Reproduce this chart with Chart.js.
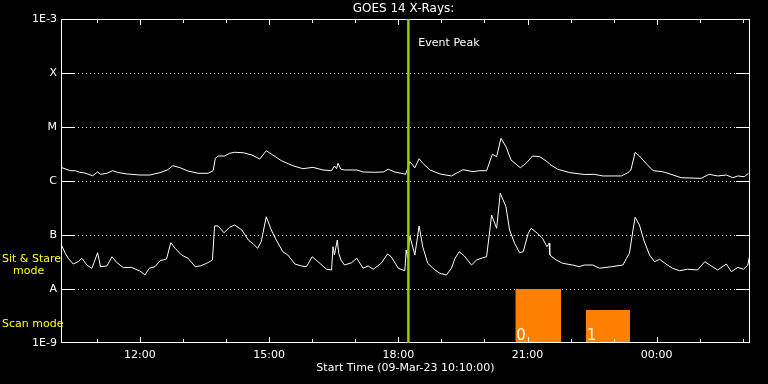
<!DOCTYPE html>
<html>
<head>
<meta charset="utf-8">
<script src="https://cdn.jsdelivr.net/npm/chart.js@4/dist/chart.umd.min.js"></script>
<style>
  html, body { margin: 0; padding: 0; background: #000; }
</style>
</head>
<body>
<canvas id="chart-goes" width="768" height="384"></canvas>
<script>
/* ===== GOES 14 X-Ray flux plot ===== */

const TITLE = 'GOES 14 X-Rays:';
const START_LABEL = 'Start Time (09-Mar-23 10:10:00)';
const START_MINUTES = 10 * 60 + 10; // 10:10
const SPAN_MINUTES = 960;

// long channel, minutes since start / flux (W m^-2)
const longTimes = [0,13,20,26,33,44,51,55,64,72,80,92,110,124,138,148,156,166,177,191,205,212,215,219,228,235,242,254,266,277,286,293,307,323,337,351,365,377,381,384,386,390,395,412,421,437,449,456,465,474,480,483,486,493,499,504,514,528,544,560,574,583,593,601,607,613,620,627,640,648,657,667,678,681,692,709,729,743,755,781,790,794,800,806,815,825,838,850,864,892,903,915,927,936,943,952,958];
const longFlux = [1.79e-6,1.55e-6,1.55e-6,1.45e-6,1.41e-6,1.25e-6,1.47e-6,1.33e-6,1.39e-6,1.55e-6,1.43e-6,1.35e-6,1.29e-6,1.29e-6,1.43e-6,1.60e-6,1.92e-6,1.76e-6,1.53e-6,1.39e-6,1.39e-6,1.55e-6,2.63e-6,2.90e-6,2.90e-6,3.26e-6,3.40e-6,3.34e-6,3.03e-6,2.55e-6,3.64e-6,3.16e-6,2.38e-6,1.92e-6,1.69e-6,1.79e-6,1.60e-6,1.55e-6,1.90e-6,1.69e-6,2.13e-6,1.65e-6,1.60e-6,1.60e-6,1.47e-6,1.45e-6,1.47e-6,1.65e-6,1.47e-6,1.39e-6,1.33e-6,1.69e-6,2.28e-6,1.76e-6,2.59e-6,2.13e-6,1.60e-6,1.35e-6,1.24e-6,1.62e-6,1.49e-6,1.55e-6,1.55e-6,3.12e-6,2.82e-6,6.18e-6,4.32e-6,2.45e-6,1.76e-6,2.13e-6,2.90e-6,2.82e-6,2.25e-6,2.04e-6,1.65e-6,1.43e-6,1.32e-6,1.33e-6,1.24e-6,1.24e-6,1.43e-6,1.60e-6,3.40e-6,2.90e-6,2.13e-6,1.55e-6,1.49e-6,1.33e-6,1.15e-6,1.12e-6,1.33e-6,1.24e-6,1.29e-6,1.15e-6,1.24e-6,1.20e-6,1.39e-6];

// short channel
const shortTimes = [0,6,10,17,24,29,36,43,46,51,55,64,71,78,87,98,110,117,123,131,138,147,153,159,168,177,187,194,203,211,214,219,227,235,242,252,261,268,274,279,286,293,300,309,316,326,335,342,350,358,370,377,379,381,385,387,390,395,405,412,421,428,435,446,455,460,470,479,481,483,486,493,499,504,511,521,528,537,544,549,555,562,572,579,588,593,600,607,612,620,625,632,639,644,651,655,664,671,677,680,681,690,699,713,722,729,741,750,767,783,788,792,797,800,806,812,820,827,834,843,852,862,873,887,897,906,915,927,934,943,951,957,959];
const shortFlux = [6.8e-8,4.58e-8,3.71e-8,2.90e-8,3.21e-8,3.71e-8,2.78e-8,2.42e-8,3.07e-8,4.70e-8,2.59e-8,2.67e-8,3.96e-8,3.07e-8,2.48e-8,2.52e-8,2.15e-8,1.82e-8,2.42e-8,2.59e-8,3.34e-8,3.59e-8,7.20e-8,5.67e-8,4.26e-8,3.71e-8,2.59e-8,2.67e-8,2.99e-8,3.44e-8,1.47e-7,1.47e-7,1.10e-7,1.39e-7,1.53e-7,1.24e-7,8.07e-8,6.8e-8,5.67e-8,7.52e-8,2.18e-7,1.24e-7,8.07e-8,4.91e-8,4.26e-8,2.90e-8,2.67e-8,2.59e-8,3.96e-8,3.21e-8,2.32e-8,2.25e-8,6.07e-8,4.26e-8,8.07e-8,4.58e-8,3.44e-8,2.78e-8,3.07e-8,3.71e-8,2.42e-8,2.67e-8,2.32e-8,2.99e-8,4.45e-8,3.96e-8,2.42e-8,2.18e-8,5.27e-8,3.71e-8,9.58e-8,4.26e-8,1.47e-7,6.07e-8,2.99e-8,2.25e-8,1.95e-8,1.82e-8,2.42e-8,3.71e-8,4.91e-8,4.08e-8,2.78e-8,3.44e-8,3.80e-8,3.96e-8,2.34e-7,1.33e-7,5.92e-7,3.34e-7,1.24e-7,7.02e-8,4.70e-8,4.91e-8,1.07e-7,1.33e-7,1.07e-7,8.69e-8,6.07e-8,7.02e-8,4.26e-8,3.44e-8,2.99e-8,2.78e-8,2.59e-8,2.78e-8,2.78e-8,2.42e-8,2.59e-8,2.78e-8,3.71e-8,4.58e-8,1.24e-7,2.13e-7,1.53e-7,8.07e-8,4.26e-8,3.21e-8,3.55e-8,2.90e-8,2.42e-8,2.18e-8,2.32e-8,2.25e-8,3.21e-8,2.67e-8,2.25e-8,2.90e-8,2.09e-8,2.52e-8,2.32e-8,2.78e-8,3.86e-8];

// scan-mode blocks
const scanStart = [633, 731];
const scanEnd = [697, 793];
const scanLevel = [1e-8, 4.1e-9];
const scanLabels = ['0', '1'];

const eventPeak = 484; // 18:14

const fluxTicks = [1e-9, 1e-8, 1e-7, 1e-6, 1e-5, 1e-4, 1e-3];
const fluxLabels = ['1E-9', 'A', 'B', 'C', 'M', 'X', '1E-3'];
const classLevels = [1e-8, 1e-7, 1e-6, 1e-5, 1e-4];
const hourTicks = [50, 110, 170, 230, 290, 350, 410, 470, 530, 590, 650, 710, 770, 830, 890, 950];
const majorTicks = [110, 290, 470, 650, 830];

const FONT = 'DejaVu Sans';

function clockLabel(m) {
  const t = (START_MINUTES + m) % 1440;
  const h = Math.floor(t / 60), mm = t % 60;
  return String(h).padStart(2, '0') + ':' + String(mm).padStart(2, '0');
}

function fluxLabel(v) {
  const i = fluxTicks.findIndex(t => Math.abs(Math.log10(t) - Math.log10(v)) < 0.01);
  return i < 0 ? '' : fluxLabels[i];
}

function line(ctx, x1, y1, x2, y2) {
  ctx.beginPath();
  ctx.moveTo(x1, y1);
  ctx.lineTo(x2, y2);
  ctx.stroke();
}

/* ---------- Frame, grid and annotations ---------- */

const goesFrame = {
  id: 'goesFrame',
  beforeDatasetsDraw(chart) {
    const { ctx, chartArea: a, scales: { x, y } } = chart;
    ctx.save();
    ctx.strokeStyle = '#fff';
    ctx.lineWidth = 1;
    classLevels.forEach(v => {
      const py = Math.round(y.getPixelForValue(v)) + 0.5;
      ctx.setLineDash([1, 3]);
      line(ctx, a.left + 17, py, a.right - 14, py);
      ctx.setLineDash([]);
      line(ctx, a.left, py, a.left + 14, py);
      line(ctx, a.right - 14, py, a.right, py);
    });
    ctx.restore();
  },
  afterDatasetsDraw(chart) {
    const { ctx, chartArea: a, scales: { x, y } } = chart;
    ctx.save();
    ctx.strokeStyle = '#fff';
    ctx.lineWidth = 1;
    // box
    line(ctx, a.left + 0.5, a.top, a.left + 0.5, a.bottom);
    line(ctx, a.right - 0.5, a.top, a.right - 0.5, a.bottom);
    line(ctx, a.left, a.top + 0.5, a.right, a.top + 0.5);
    line(ctx, a.left, a.bottom - 0.5, a.right, a.bottom - 0.5);
    // hour ticks, top and bottom
    hourTicks.forEach(m => {
      const px = Math.round(x.getPixelForValue(m)) + 0.5;
      const len = majorTicks.includes(m) ? 6 : 4;
      line(ctx, px, a.bottom, px, a.bottom - len);
      line(ctx, px, a.top, px, a.top + len);
    });

    // scan labels
    ctx.fillStyle = '#fff';
    ctx.font = '15px ' + FONT;
    ctx.textAlign = 'left';
    ctx.textBaseline = 'alphabetic';
    scanStart.forEach((s, i) => {
      ctx.fillText(scanLabels[i], x.getPixelForValue(s) + 1, a.bottom - 3);
    });

    // event peak line
    const ex = x.getPixelForValue(eventPeak);
    ctx.strokeStyle = '#99cc00';
    ctx.lineWidth = 2.5;
    line(ctx, ex, a.top, ex, a.bottom);
    ctx.fillStyle = '#fff';
    ctx.font = '11px ' + FONT;
    ctx.textBaseline = 'middle';
    ctx.fillText('Event Peak', ex + 10, a.top + 24);

    // title and x-axis title
    const cx = (a.left + a.right) / 2;
    ctx.textAlign = 'center';
    ctx.font = '12px ' + FONT;
    ctx.fillText(TITLE, cx - 2, 9);
    ctx.font = '11px ' + FONT;
    ctx.fillText(START_LABEL, cx, 368);

    // mode labels
    ctx.fillStyle = '#ffff00';
    ctx.textAlign = 'left';
    ctx.font = '11px ' + FONT;
    const ys = y.getPixelForValue(3.6e-8);
    ctx.fillText('Sit & Stare', 2, ys);
    ctx.fillText('mode', 13, ys + 12);
    ctx.fillText('Scan mode', 2, y.getPixelForValue(2.2e-9));
    ctx.restore();
  },
};

/* ---------- Chart ---------- */

const scanSets = scanStart.map((s, i) => ({
  label: 'scan ' + scanLabels[i],
  data: [{ x: s, y: scanLevel[i] }, { x: scanEnd[i], y: scanLevel[i] }],
  borderWidth: 0,
  pointRadius: 0,
  backgroundColor: '#ff8000',
  fill: { value: 1e-9 },
}));

new Chart(document.getElementById('chart-goes'), {
  type: 'line',
  data: {
    datasets: [
      {
        label: 'long',
        data: longTimes.map((t, i) => ({ x: t, y: longFlux[i] })),
        borderColor: '#fff',
        borderWidth: 1,
        pointRadius: 0,
        tension: 0,
        fill: false,
      },
      {
        label: 'short',
        data: shortTimes.map((t, i) => ({ x: t, y: shortFlux[i] })),
        borderColor: '#fff',
        borderWidth: 1,
        pointRadius: 0,
        tension: 0,
        fill: false,
      },
      ...scanSets,
    ],
  },
  options: {
    responsive: false,
    animation: false,
    layout: { padding: { top: 19, right: 18, left: 0, bottom: 0 } },
    scales: {
      x: {
        type: 'linear',
        min: 0,
        max: SPAN_MINUTES,
        grid: { display: false, drawTicks: false },
        border: { display: false },
        afterBuildTicks(scale) { scale.ticks = majorTicks.map(v => ({ value: v })); },
        afterFit(scale) { scale.height = 41; },
        ticks: {
          color: '#fff',
          font: { family: FONT, size: 11 },
          padding: 6,
          maxRotation: 0,
          autoSkip: false,
          callback: v => clockLabel(v),
        },
      },
      y: {
        type: 'logarithmic',
        min: 1e-9,
        max: 1e-3,
        grid: { display: false, drawTicks: false },
        border: { display: false },
        afterBuildTicks(scale) { scale.ticks = fluxTicks.map(v => ({ value: v })); },
        afterFit(scale) { scale.width = 61; },
        ticks: {
          color: '#fff',
          font: { family: FONT, size: 11 },
          padding: 4,
          autoSkip: false,
          callback: v => fluxLabel(v),
        },
      },
    },
    plugins: {
      legend: { display: false },
      tooltip: { enabled: false },
    },
  },
  plugins: [goesFrame],
});
</script>
</body>
</html>
